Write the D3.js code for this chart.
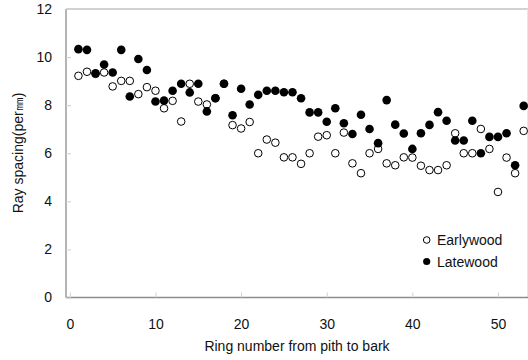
<!DOCTYPE html>
<html>
<head>
<meta charset="utf-8">
<script src="https://cdn.jsdelivr.net/npm/d3@7"></script>
<style>
  html, body { margin: 0; padding: 0; background: #fff; }
  svg { display: block; font-family: Arial, "Liberation Sans", sans-serif; }
</style>
</head>
<body>
<script>
const rings = [1,2,3,4,5,6,7,8,9,10,11,12,13,14,15,16,17,18,19,20,21,22,23,24,25,26,27,28,29,30,31,32,33,34,35,36,37,38,39,40,41,42,43,44,45,46,47,48,49,50,51,52,53];
const earlywood = [9.22,9.39,9.3,9.36,8.78,9.01,9.01,8.46,8.75,8.6,7.87,8.18,7.32,8.89,8.15,8.03,8.29,8.89,7.17,7.03,7.3,6.0,6.57,6.44,5.83,5.83,5.56,6.0,6.69,6.75,6.0,6.86,5.58,5.17,6.0,6.18,5.58,5.5,5.83,5.82,5.48,5.3,5.3,5.5,6.83,6.0,6.0,7.01,6.18,4.39,5.82,5.17,6.93];
const latewood = [10.33,10.3,9.33,9.69,9.36,10.3,8.36,9.92,9.46,8.15,8.19,8.6,8.89,8.53,8.89,7.74,8.29,8.89,7.58,8.68,8.03,8.43,8.6,8.6,8.54,8.54,8.29,7.7,7.7,7.31,7.87,7.25,6.8,7.6,7.01,6.42,8.21,7.19,6.82,6.18,6.83,7.18,7.71,7.35,6.53,6.53,7.35,6.0,6.68,6.68,6.83,5.5,7.97];
const xTicks = [0,10,20,30,40,50];
const yTicks = [0,2,4,6,8,10,12];
const seriesNames = ["Earlywood","Latewood"];
const xTitle = "Ring number from pith to bark";
const yTitle = "Ray spacing(per\u339C)";

const W = 528, H = 360;
const svg = d3.select("body").append("svg").attr("width", W).attr("height", H);

const x = d3.scaleLinear().domain([-0.45, 53.47]).range([66, 527.7]);
const y = d3.scaleLinear().domain([0, 12]).range([297.5, 9]);

// frame top and right (light)
svg.append("line").attr("x1", 66).attr("x2", W).attr("y1", 9).attr("y2", 9)
  .attr("stroke", "#a6a6a6").attr("stroke-width", 1.2);
svg.append("line").attr("x1", 527.5).attr("x2", 527.5).attr("y1", 9).attr("y2", 297.5)
  .attr("stroke", "#e6e6e6").attr("stroke-width", 1);

// x axis
const xAxis = svg.append("g").attr("transform", "translate(0,297.5)")
  .call(d3.axisBottom(x).tickValues(xTicks).tickSize(-5).tickPadding(0).tickFormat(d3.format("d")));
xAxis.select(".domain").attr("stroke", "#8c8c8c").attr("stroke-width", 1.3).attr("d", "M66,0H" + W);
xAxis.selectAll(".tick line").attr("stroke", "#d0d0d0");
xAxis.selectAll(".tick text").attr("font-size", 14).attr("fill", "#111").attr("font-family", "Arial, 'Liberation Sans', sans-serif").attr("dy", "1.0em").attr("y", 17);

// y axis
const yAxis = svg.append("g").attr("transform", "translate(66,0)")
  .call(d3.axisLeft(y).tickValues(yTicks).tickSize(-5).tickPadding(14));
yAxis.select(".domain").attr("stroke", "#8c8c8c").attr("stroke-width", 1.3).attr("d", "M0,9V297.5");
yAxis.selectAll(".tick line").attr("stroke", "#d0d0d0");
yAxis.selectAll(".tick text").attr("font-size", 14).attr("fill", "#111").attr("font-family", "Arial, 'Liberation Sans', sans-serif");

// axis titles
svg.append("text").attr("x", 297).attr("y", 351).attr("text-anchor", "middle")
  .attr("font-size", 14).attr("fill", "#111").text(xTitle);
svg.append("text").attr("transform", "translate(23,153) rotate(-90)").attr("text-anchor", "middle")
  .attr("font-size", 14).attr("fill", "#111").text(yTitle);

// points
const earlyData = rings.map((r, i) => ({r, v: earlywood[i]}));
const lateData = rings.map((r, i) => ({r, v: latewood[i]}));

svg.append("g").selectAll("circle").data(earlyData).join("circle")
  .attr("cx", d => x(d.r)).attr("cy", d => y(d.v)).attr("r", 3.8)
  .attr("fill", "#fff").attr("stroke", "#000").attr("stroke-width", 1);
svg.append("g").selectAll("circle").data(lateData).join("circle")
  .attr("cx", d => x(d.r)).attr("cy", d => y(d.v)).attr("r", 4.3)
  .attr("fill", "#000");

// legend
const leg = svg.append("g");
leg.append("circle").attr("cx", 426.7).attr("cy", 240).attr("r", 3.3)
  .attr("fill", "#fff").attr("stroke", "#000").attr("stroke-width", 1);
leg.append("circle").attr("cx", 426.7).attr("cy", 261.5).attr("r", 3.6).attr("fill", "#000");
leg.append("text").attr("x", 437).attr("y", 245).attr("font-size", 14).attr("fill", "#111").text(seriesNames[0]);
leg.append("text").attr("x", 437).attr("y", 266.5).attr("font-size", 14).attr("fill", "#111").text(seriesNames[1]);
</script>
</body>
</html>
